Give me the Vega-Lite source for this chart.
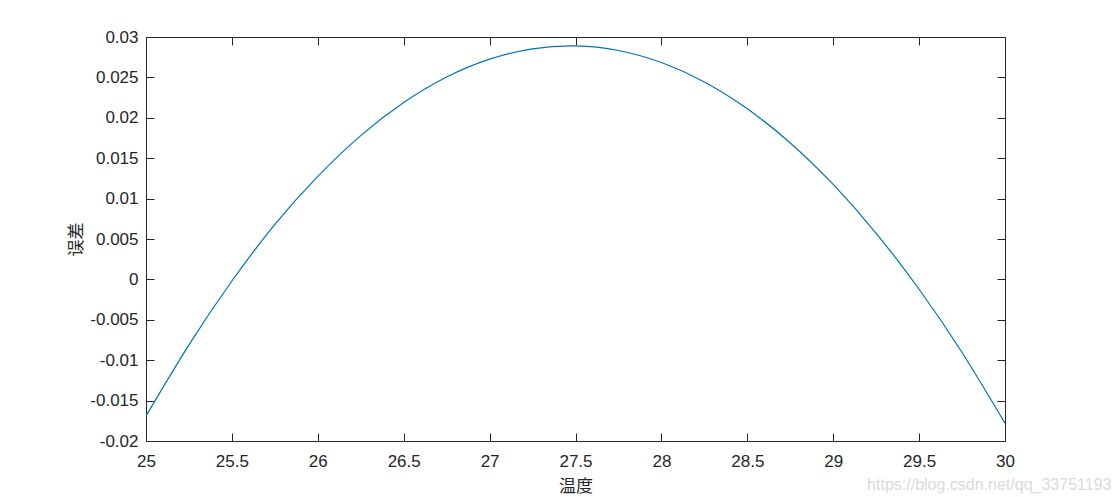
{
  "$schema": "https://vega.github.io/schema/vega-lite/v6.json",
  "width": 859,
  "height": 404,
  "autosize": {"type": "none"},
  "padding": {"left": 146, "top": 37, "right": 107, "bottom": 56},
  "background": "white",
  "title": {
    "text": "https://blog.csdn.net/qq_33751193",
    "orient": "bottom",
    "anchor": "end",
    "color": "#dadada",
    "font": "Liberation Sans",
    "fontSize": 16,
    "fontWeight": "normal",
    "dx": 97,
    "dy": -17,
    "offset": 0
  },
  "config": {
    "view": {"stroke": "#262626", "strokeWidth": 1},
    "axis": {
      "grid": false,
      "domainColor": "#262626",
      "tickColor": "#262626",
      "labelColor": "#262626",
      "labelFont": "Liberation Sans",
      "labelFontSize": 17,
      "titleFont": "Noto Sans CJK SC",
      "titleFontSize": 17,
      "titleFontWeight": "normal",
      "titleColor": "#262626",
      "tickSize": -8
    }
  },
  "data": {
    "values": [
      {"temp": 25, "err": -0.0169},
      {"temp": 25.25, "err": -0.0081},
      {"temp": 25.5, "err": -0.0002},
      {"temp": 25.75, "err": 0.0068},
      {"temp": 26, "err": 0.01275},
      {"temp": 26.25, "err": 0.01779},
      {"temp": 26.5, "err": 0.02188},
      {"temp": 26.75, "err": 0.02504},
      {"temp": 27, "err": 0.02726},
      {"temp": 27.25, "err": 0.02854},
      {"temp": 27.5, "err": 0.0289},
      {"temp": 27.75, "err": 0.02833},
      {"temp": 28, "err": 0.02684},
      {"temp": 28.25, "err": 0.02444},
      {"temp": 28.5, "err": 0.02112},
      {"temp": 28.75, "err": 0.01689},
      {"temp": 29, "err": 0.01175},
      {"temp": 29.25, "err": 0.00571},
      {"temp": 29.5, "err": -0.00122},
      {"temp": 29.75, "err": -0.00905},
      {"temp": 30, "err": -0.0178}
    ]
  },
  "layer": [
    {
      "mark": {"type": "line", "color": "#0072BD", "strokeWidth": 1.2, "interpolate": "natural", "clip": true},
      "encoding": {
        "x": {
          "field": "temp", "type": "quantitative",
          "scale": {"domain": [25, 30], "nice": false, "zero": false},
          "axis": {
            "orient": "bottom", "title": "温度",
            "values": [25, 25.5, 26, 26.5, 27, 27.5, 28, 28.5, 29, 29.5, 30],
            "labelExpr": "'' + datum.value",
            "labelPadding": 20, "titlePadding": 9, "labelFlush": false
          }
        },
        "y": {
          "field": "err", "type": "quantitative",
          "scale": {"domain": [-0.02, 0.03], "nice": false, "zero": false},
          "axis": {
            "orient": "left", "title": "误差",
            "values": [-0.02, -0.015, -0.01, -0.005, 0, 0.005, 0.01, 0.015, 0.02, 0.025, 0.03],
            "labelExpr": "'' + datum.value",
            "labelPadding": 16, "titlePadding": 4, "labelFlush": false
          }
        }
      }
    },
    {
      "mark": {"type": "line", "opacity": 0},
      "encoding": {
        "x": {
          "field": "temp", "type": "quantitative",
          "axis": {"orient": "top", "title": null, "labels": false,
            "values": [25, 25.5, 26, 26.5, 27, 27.5, 28, 28.5, 29, 29.5, 30]}
        },
        "y": {
          "field": "err", "type": "quantitative",
          "axis": {"orient": "right", "title": null, "labels": false,
            "values": [-0.02, -0.015, -0.01, -0.005, 0, 0.005, 0.01, 0.015, 0.02, 0.025, 0.03]}
        }
      }
    }
  ],
  "resolve": {"axis": {"x": "independent", "y": "independent"}}
}
